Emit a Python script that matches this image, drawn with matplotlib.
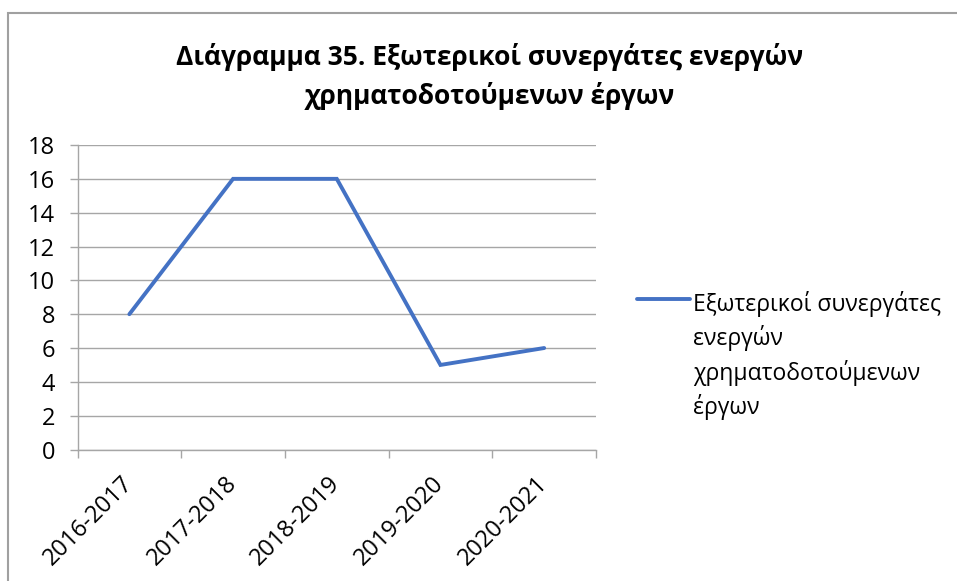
import matplotlib
matplotlib.use('Agg')
import matplotlib.pyplot as plt
from matplotlib.patches import Rectangle

# data
periods = ['2016-2017', '2017-2018', '2018-2019', '2019-2020', '2020-2021']
partners = [8, 16, 16, 5, 6]
series_name = 'Εξωτερικοί συνεργάτες\nενεργών\nχρηματοδοτούμενων\nέργων'
title = 'Διάγραμμα 35. Εξωτερικοί συνεργάτες ενεργών\nχρηματοδοτούμενων έργων'
y_ticks = [0, 2, 4, 6, 8, 10, 12, 14, 16, 18]

plt.rcParams['font.family'] = ['Open Sans', 'DejaVu Sans']
GRAY = '#a6a6a6'

fig = plt.figure(figsize=(9.57, 5.81), dpi=100)
ax = fig.add_axes([0.081, 0.2263, 0.5418, 0.5241])

x = list(range(len(periods)))
ax.plot(x, partners, color='#4472C4', lw=2.8, solid_capstyle='round',
        solid_joinstyle='miter', label=series_name)

ax.set_xlim(-0.5, len(periods) - 0.5)
ax.set_ylim(0, 18)
ax.set_yticks(y_ticks)
ax.yaxis.grid(True, color=GRAY, lw=1)
ax.set_axisbelow(True)

# category boundaries get the tick marks, centres get the labels
ax.set_xticks([i - 0.5 for i in range(len(periods) + 1)])
ax.set_xticklabels([])
ax.set_xticks(x, minor=True)
ax.set_xticklabels(periods, minor=True, rotation=45, ha='right', va='center',
                   rotation_mode='anchor', fontsize=17)
ax.tick_params(axis='x', which='minor', length=0, pad=22)
ax.tick_params(axis='x', which='major', length=6, color=GRAY, width=1)
ax.tick_params(axis='y', length=6, color=GRAY, width=1, pad=10, labelsize=17)

for s in ['top', 'right']:
    ax.spines[s].set_visible(False)
for s in ['left', 'bottom']:
    ax.spines[s].set_color(GRAY)
    ax.spines[s].set_linewidth(1)

fig.text(0.512, 0.869, title, ha='center', va='center', fontsize=19,
         fontweight='bold', linespacing=1.5)

leg = fig.legend(loc='upper left', bbox_to_anchor=(637 / 957, 1 - 291 / 581),
                 frameon=False, fontsize=16.5, handlelength=2.3, handletextpad=0.15,
                 borderpad=0, borderaxespad=0)
for t in leg.get_texts():
    t.set_linespacing(1.42)
for col in leg._legend_handle_box.get_children():
    for row in col.get_children():
        row.align = 'top'

# chart area border (only top and left visible in the crop)
fig.add_artist(Rectangle((8 / 957, -0.1), 1.2, 1.1 - 13 / 581,
                         transform=fig.transFigure, fill=False,
                         edgecolor='#a0a0a0', lw=1.5, clip_on=False))

fig.savefig('out.png', dpi=100, facecolor='white')
